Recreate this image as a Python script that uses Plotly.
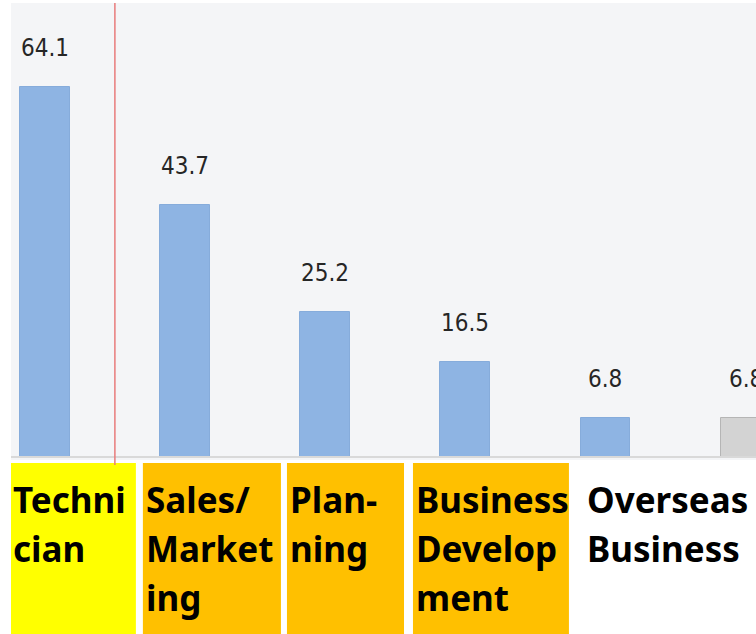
import plotly.graph_objects as go

categories = ["Technician", "Sales/Marketing", "Planning", "Business Development", "Overseas Business", "Other"]
values = [64.1, 43.7, 25.2, 16.5, 6.8, 6.8]
value_labels = ["64.1", "43.7", "25.2", "16.5", "6.8", "6.8"]
label_lines = [["Techni", "cian"], ["Sales/", "Market", "ing"], ["Plan-", "ning"],
               ["Business", "Develop", "ment"], ["Overseas", "Business"], []]
bar_colors = ["#8eb4e3", "#8eb4e3", "#8eb4e3", "#8eb4e3", "#8eb4e3", "#d3d3d3"]
bar_lines = ["#86acdb", "#86acdb", "#86acdb", "#86acdb", "#86acdb", "#b5b5b5"]
box_colors = ["#ffff00", "#ffc000", "#ffc000", "#ffc000", None, None]
# box extents in category units (left, right)
box_extents = [(-0.246, 0.646), (0.696, 1.682), (1.725, 2.561), (2.625, 3.739), None, None]
text_x = [-0.246, 0.703, 1.732, 2.632, 3.851, None]

W, H = 756, 634
top, bottom_px = 3, 460
plot_h = bottom_px - top

def py(p):
    return (bottom_px - p) / plot_h

xs = list(range(len(categories)))
fig = go.Figure()
fig.add_trace(go.Bar(
    x=xs, y=values, width=0.357,
    marker=dict(color=bar_colors, line=dict(color=bar_lines, width=1)),
    hoverinfo="skip",
))

shapes = []
annotations = []
shapes.append(dict(type="line", xref="paper", yref="y", x0=0, x1=1, y0=0, y1=0,
                   line=dict(color="#d9d9d9", width=2), layer="above"))
for i, ext in enumerate(box_extents):
    if ext is None:
        continue
    shapes.append(dict(type="rect", xref="x", yref="paper", x0=ext[0], x1=ext[1],
                       y0=py(634), y1=py(463), fillcolor=box_colors[i], line=dict(width=0),
                       layer="above"))
shapes.append(dict(type="line", xref="x", yref="paper", x0=0.496, x1=0.496,
                   y0=py(465), y1=1, line=dict(color="#e87b7b", width=1.5), layer="above"))

for i, v in enumerate(values):
    annotations.append(dict(x=i, y=v, xref="x", yref="y", text=value_labels[i],
                            showarrow=False, yanchor="middle", yshift=39,
                            font=dict(family="Liberation Sans Narrow, DejaVu Sans Condensed, sans-serif",
                                      size=24, color="#262626")))

line_centers = [499, 548, 597]
for i, lines in enumerate(label_lines):
    for j, t in enumerate(lines):
        annotations.append(dict(x=text_x[i], y=py(line_centers[j]), xref="x", yref="paper",
                                text="<b>%s</b>" % t, showarrow=False, xanchor="left",
                                yanchor="middle", align="left",
                                font=dict(family="Noto Sans", size=35, color="#000000")))

fig.update_layout(
    width=W, height=H,
    margin=dict(l=11, r=0, t=top, b=H - bottom_px, pad=0),
    paper_bgcolor="#ffffff",
    plot_bgcolor="#f4f5f7",
    showlegend=False,
    bargap=0,
    xaxis=dict(range=[-0.246, 5.075], showticklabels=False, showgrid=False,
               zeroline=False, showline=False, fixedrange=True),
    yaxis=dict(range=[-3 / 5.77, (457 - top) / 5.77], showticklabels=False, showgrid=False,
               zeroline=False, showline=False, fixedrange=True),
    shapes=shapes,
    annotations=annotations,
)

fig.write_html("out.html", config={"displayModeBar": False},
               post_script="document.body.style.margin='0px';document.body.style.overflow='hidden';")
